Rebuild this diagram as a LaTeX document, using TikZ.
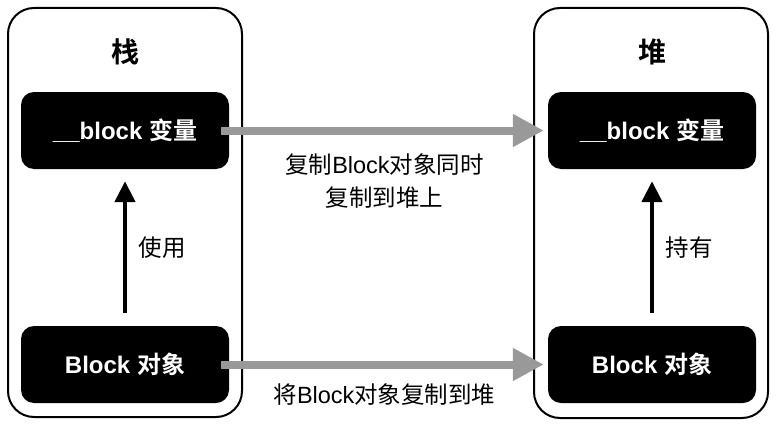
\documentclass[tikz,border=0pt]{standalone}
\usepackage{fontspec}
\setmainfont{Liberation Sans}
\newfontfamily\cjk{Noto Sans CJK SC}[BoldFont={Noto Sans CJK SC Bold}]
\usepackage{xcolor}
\usepackage{tikz}
\usetikzlibrary{arrows.meta,positioning}
\definecolor{copygray}{HTML}{999999}

\tikzset{
  region/.style={draw=black,line width=2pt,rounded corners=26pt},
  blk/.style={fill=black,text=white,rounded corners=13pt,minimum width=208pt,
    minimum height=77pt,font=\fontsize{24}{28}\selectfont\bfseries},
  ttl/.style={font=\fontsize{28}{32}\selectfont\bfseries\cjk},
  lbl/.style={font=\fontsize{23.5}{33}\selectfont,align=center},
  copyarr/.style={draw=copygray,line width=8pt,shorten >=4pt,
    -{Triangle[length=31pt,width=31pt,fill=copygray]}},
  usearr/.style={line width=4.5pt,shorten <=13pt,shorten >=12pt,
    -{Triangle[length=21pt,width=20pt]}},
}

\begin{document}
\begin{tikzpicture}[x=1pt,y=-1pt]
  \useasboundingbox (0,0) rectangle (776,428);
  % stack and heap
  \draw[region] (8,8) rectangle (242,417);
  \draw[region] (534,8) rectangle (768,418);
  \node[ttl] (stk) at (125,52) {栈};
  \node[ttl] (heap) at (652,52) {堆};
  % blocks
  \node[blk] (stkvar) at (125,130.5) {\_\_block {\cjk 变量}};
  \node[blk] (stkobj) at (125,364.5) {Block {\cjk 对象}};
  \node[blk] (heapvar) at (652,130.5) {\_\_block {\cjk 变量}};
  \node[blk] (heapobj) at (652,364.5) {Block {\cjk 对象}};
  % arrows
  \draw[usearr] (stkobj) -- (stkvar) node[midway,right=8pt,lbl] {\cjk 使用};
  \draw[usearr] (heapobj) -- (heapvar) node[midway,right=8pt,lbl] {\cjk 持有};
  \draw[copyarr] ([xshift=-8pt]stkvar.east) -- (heapvar.west)
    node[midway,below=16pt,lbl] {{\cjk 复制}Block{\cjk 对象同时}\\{\cjk 复制到堆上}};
  \draw[copyarr] ([xshift=-8pt]stkobj.east) -- (heapobj.west)
    node[midway,below=12pt,lbl] {{\cjk 将}Block{\cjk 对象复制到堆}};
\end{tikzpicture}
\end{document}
